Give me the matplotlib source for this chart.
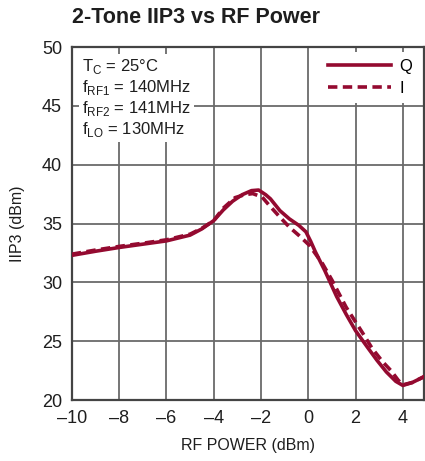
import matplotlib
matplotlib.use("Agg")
import matplotlib.pyplot as plt

# --- data ---
x_q = [-10, -9, -8, -7, -6, -5, -4.5, -4, -3.6, -3.2, -2.8, -2.4, -2.1, -1.8,
       -1.6, -1.2, -0.8, -0.4, -0.1, 0.1, 0.3, 0.55, 0.7, 1.2, 1.6, 2.0, 2.5,
       2.9, 3.3, 3.7, 4.0, 4.4, 4.9]
y_q = [32.3, 32.65, 32.97, 33.25, 33.53, 34.02, 34.55, 35.25, 36.15, 36.9,
       37.45, 37.8, 37.85, 37.45, 37.1, 36.1, 35.4, 34.85, 34.3, 33.5, 32.6,
       31.6, 31.0, 28.8, 27.3, 25.9, 24.5, 23.4, 22.4, 21.6, 21.25, 21.5, 22.0]

x_i = [-10, -9, -8, -7, -6, -5, -4.5, -4, -3.6, -3.1, -2.7, -2.35, -1.95,
       -1.65, -1.2, -0.8, -0.4, 0.05, 0.35, 0.6, 1.0, 1.6, 2.3, 2.7, 3.15, 3.5,
       3.8, 4.0, 4.4, 4.9]
y_i = [32.4, 32.75, 33.06, 33.33, 33.62, 34.1, 34.6, 35.25, 36.3, 37.2, 37.45,
       37.55, 37.25, 36.55, 35.55, 34.7, 34.0, 33.15, 32.3, 31.6, 30.2, 27.9,
       25.7, 24.4, 23.25, 22.5, 21.7, 21.3, 21.5, 22.0]

x_ticks = [-10, -8, -6, -4, -2, 0, 2, 4]
y_ticks = [20, 25, 30, 35, 40, 45, 50]

red = "#940a30"
txt = "#1e1e1e"
plt.rcParams["font.family"] = ["Liberation Sans", "DejaVu Sans"]

fig = plt.figure(figsize=(4.25, 4.61), dpi=100)
ax = fig.add_axes([0.169, 0.132, 0.829, 0.766])

ax.plot(x_q, y_q, color=red, lw=2.6, label="Q", zorder=3,
        solid_joinstyle="round")
ax.plot(x_i, y_i, color=red, lw=2.6, ls=(0, (2.6, 1.5)), label="I", zorder=3)

ax.set_xlim(-10, 4.9)
ax.set_ylim(20, 50)
ax.set_xticks(x_ticks)
ax.set_yticks(y_ticks)
ax.set_xticklabels([str(t).replace("-", "\u2013") for t in x_ticks])
ax.tick_params(length=0, labelsize=13, pad=7, colors=txt)
ax.grid(True, color="#6a6a6a", lw=1.3)
for s in ax.spines.values():
    s.set_color("#444444")
    s.set_linewidth(1.6)

ax.set_xlabel("RF POWER (dBm)", fontsize=11.5, color=txt, labelpad=8)
ax.set_ylabel("IIP3 (dBm)", fontsize=11.5, color=txt, labelpad=12)

fig.text(0.169, 0.962, "2-Tone IIP3 vs RF Power", fontsize=15.5,
         fontweight="bold", color=txt, va="center", ha="left")

note = ("T$_\\mathregular{C}$ = 25°C\n"
        "f$_\\mathregular{RF1}$ = 140MHz\n"
        "f$_\\mathregular{RF2}$ = 141MHz\n"
        "f$_\\mathregular{LO}$ = 130MHz")
ax.text(0.028, 0.972, note, transform=ax.transAxes, fontsize=12, va="top",
        ha="left", color=txt, linespacing=1.15, zorder=4,
        bbox=dict(facecolor="white", edgecolor="none", pad=2))

leg = ax.legend(loc="upper right", fontsize=12, frameon=True, handlelength=3.8,
                handletextpad=0.5, borderaxespad=0.3, borderpad=0.4,
                labelspacing=0.45)
leg.get_frame().set_edgecolor("none")
leg.get_frame().set_facecolor("white")
leg.get_frame().set_alpha(1)

plt.savefig("out.png", dpi=100)
plt.close()
